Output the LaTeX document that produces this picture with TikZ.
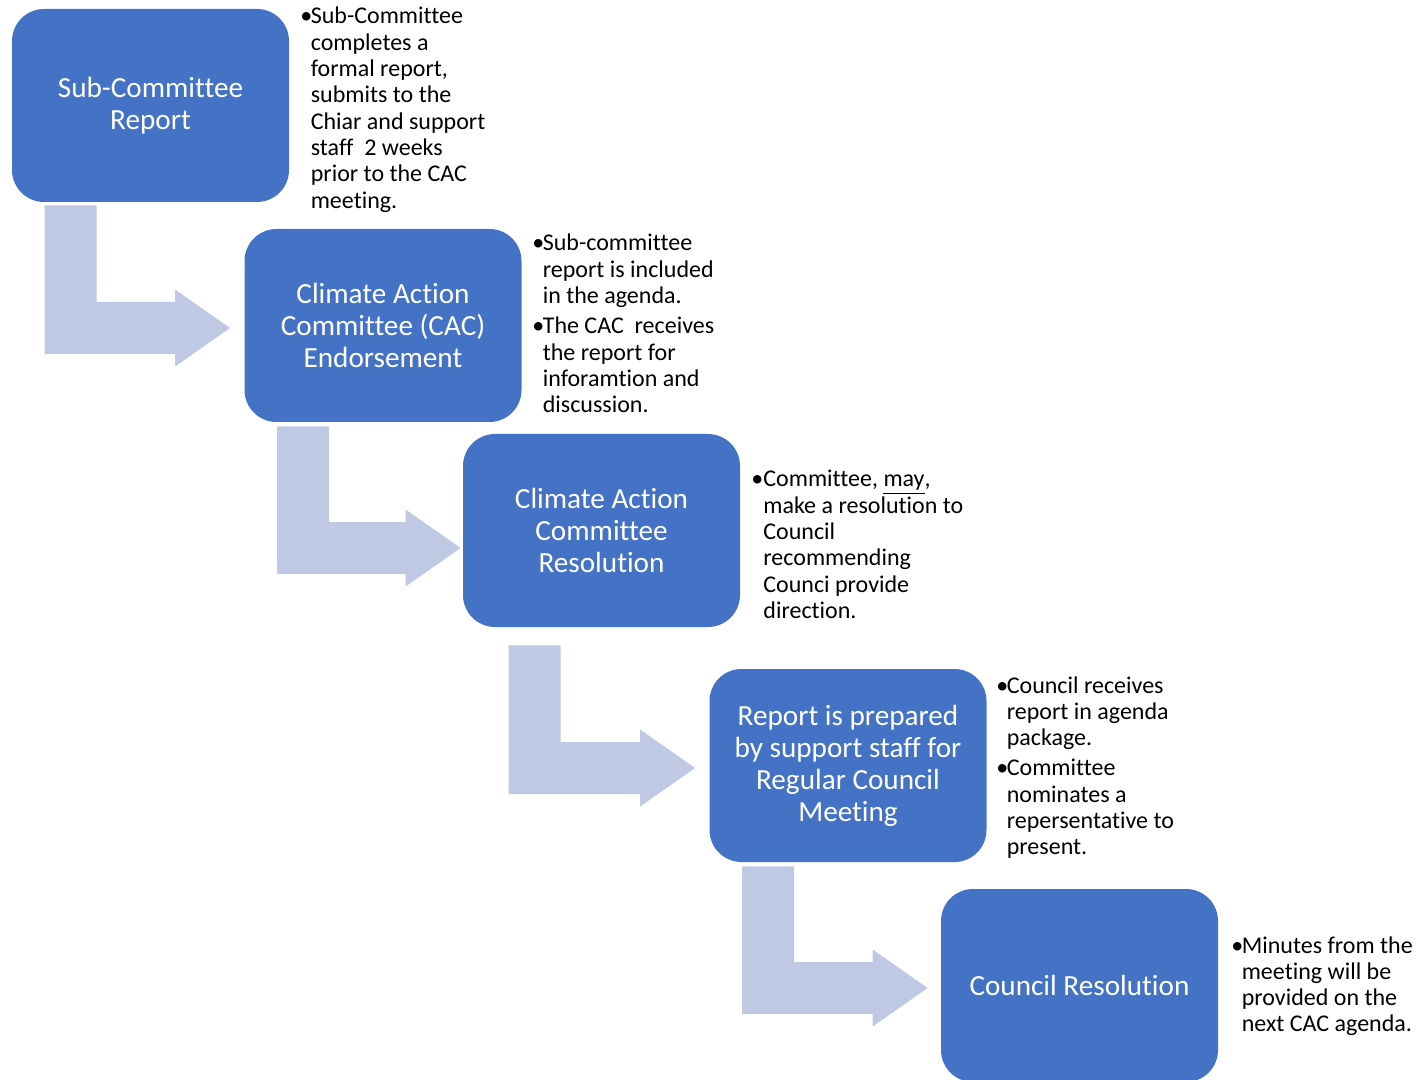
\documentclass[tikz,border=0pt]{standalone}
\usepackage{fontspec}
\setmainfont{Carlito}[Ligatures={NoCommon,NoContextual},Contextuals=NoAlternate]
\usetikzlibrary{calc}
\definecolor{stageblue}{RGB}{68,114,196}
\definecolor{bentgray}{RGB}{191,201,228}
\newcommand{\bpt}{\makebox[5.2pt][l]{\textbullet}}

\begin{document}
\begin{tikzpicture}[x=0.5pt,y=-0.5pt,
  stage/.style={fill=stageblue, rounded corners=16pt, minimum width=138.5pt, minimum height=96.5pt,
    text=white, align=center, inner sep=0pt, font=\fontsize{14.6}{16}\selectfont},
  notes/.style={anchor=base west, inner sep=0pt, text=black, font=\fontsize{12}{13.15}\selectfont}]
\useasboundingbox (0,0) rectangle (1419,1080);

\node[stage] (sub)  at (150.5,105.5)  {Sub-Committee\\Report};
\node[stage] (cac)  at (383,325.5)    {Climate Action\\Committee (CAC)\\Endorsement};
\node[stage] (res)  at (601.5,530.5)  {Climate Action\\Committee\\Resolution};
\node[stage] (prep) at (848,765.5)    {Report is prepared\\by support staff for\\Regular Council\\Meeting};
\node[stage] (coun) at (1079.5,985.5) {Council Resolution};

\foreach \a/\b/\dx/\gap/\tx/\ty in {sub/cac/33/3/-14/2.5, cac/res/33/4/-2/17.5, res/prep/46/18/-14/2.5, prep/coun/33/4/-13/2.5} {
 \coordinate (top) at ($(\a.south west)+(\dx,\gap)$);
 \coordinate (tip) at ($(\b.west)+(\tx,\ty)$);
 \fill[bentgray] (top) -- ++(52,0) -- ($(top |- tip)+(52,-26)$) -- ($(tip)+(-55,-26)$)
   -- ($(tip)+(-55,-38.5)$) -- (tip) -- ($(tip)+(-55,38.5)$) -- ($(tip)+(-55,26)$)
   -- ($(top |- tip)+(0,26)$) -- cycle;
}

\node[notes] (subnote) at (300,24) {\begin{tabular}[t]{@{}l@{}l@{}}
 \bpt & Sub-Committee\\ & completes a\\ & formal report,\\ & submits to the\\
 & Chiar and support\\ & staff~~2 weeks\\ & prior to the CAC\\ & meeting.\end{tabular}};
\node[notes] (cacnote) at (532,251) {\begin{tabular}[t]{@{}l@{}l@{}}
 \bpt & Sub-committee\\ & report is included\\ & in the agenda.\\[2pt]
 \bpt & The CAC~~receives\\ & the report for\\ & inforamtion and\\ & discussion.\end{tabular}};
\node[notes] (resnote) at (751,487) {\begin{tabular}[t]{@{}l@{}l@{}}
 \makebox[6pt][l]{\textbullet} & Committee, \underline{may},\\ & make a resolution to\\ & Council\\
 & recommending\\ & Counci provide\\ & direction.\end{tabular}};
\node[notes] (prepnote) at (996,693) {\begin{tabular}[t]{@{}l@{}l@{}}
 \bpt & Council receives\\ & report in agenda\\ & package.\\[2pt]
 \bpt & Committee\\ & nominates a\\ & repersentative to\\ & present.\end{tabular}};
\node[notes] (counnote) at (1231,953) {\begin{tabular}[t]{@{}l@{}l@{}}
 \bpt & Minutes from the\\ & meeting will be\\ & provided on the\\ & next CAC agenda.\end{tabular}};
\end{tikzpicture}
\end{document}
